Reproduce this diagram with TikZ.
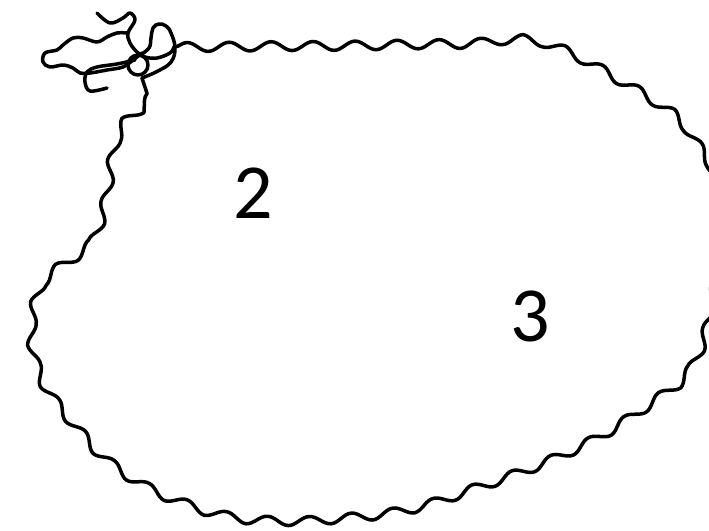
\documentclass[tikz,border=0pt]{standalone}
\usepackage{fontspec}
\setmainfont{Carlito}
\usetikzlibrary{decorations.pathmorphing}

\begin{document}
\begin{tikzpicture}[
  x=1pt, y=-1pt,
  wavy/.style={decorate, decoration={snake, amplitude=4.5pt, segment length=42pt},
               line width=3.5pt, line cap=round, line join=round},
  scribble/.style={line width=3.5pt, line cap=round, line join=round},
  num/.style={font=\fontsize{78}{80}\selectfont, inner sep=0pt}
]
\useasboundingbox (0,0) rectangle (709,530);
\clip (0,0) rectangle (709,530);

% outline
\draw[wavy] (174,47)
  to[out=0,in=180] (300,46)
  to[out=0,in=180] (450,44)
  to[out=0,in=160] (540,45)
  to[out=-20,in=150] (600,75)
  to[out=-30,in=145] (660,112)
  to[out=-35,in=125] (694,155)
  to[out=-55,in=95] (710,222)
  to[out=-85,in=80] (703,292)
  to[out=-100,in=65] (684,360)
  to[out=-115,in=35] (640,402)
  to[out=-145,in=25] (560,450)
  to[out=-155,in=20] (440,496)
  to[out=-160,in=5] (300,520)
  to[out=180,in=-20] (180,505)
  to[out=160,in=-35] (110,470)
  to[out=145,in=-50] (60,420)
  to[out=130,in=-80] (22,350)
  to[out=100,in=-100] (24,300)
  to[out=80,in=-145] (50,265)
  to[out=35,in=-110] (85,232)
  to[out=70,in=-100] (100,160)
  to[out=80,in=-125] (115,120)
  to[out=55,in=-115] (142,97)
  to[out=65,in=-80] (142,78);

% knot at the top left
\draw[scribble] plot[smooth, tension=0.6] coordinates {
  (97,13) (110,23) (123,18) (130,13) (135,20) (128,33) (130,43)
  (137,52) (145,57) (157,58) (170,53) (174,47)};
\draw[scribble] plot[smooth, tension=0.7] coordinates {
  (142,78) (158,71) (171,62) (175,48) (171,33) (166,26) (159,24)
  (153,28) (151,38) (149,48) (140,55)};
\draw[scribble] plot[smooth, tension=0.6] coordinates {
  (128,33) (117,33) (107,37) (97,42) (83,38) (73,38) (63,45) (57,50)
  (45,53) (43,62) (50,67) (63,65) (73,68) (80,73) (90,73) (107,70)
  (123,67) (133,60) (142,53)};
\draw[scribble] plot[smooth, tension=0.6] coordinates {
  (135,60) (117,64) (97,67) (87,72) (85,82) (90,91) (107,88)};
\draw[scribble] (138,65) circle[radius=10];

\node[num] (two) at (253,193) {2};
\node[num] (three) at (530,316) {3};
\end{tikzpicture}
\end{document}
